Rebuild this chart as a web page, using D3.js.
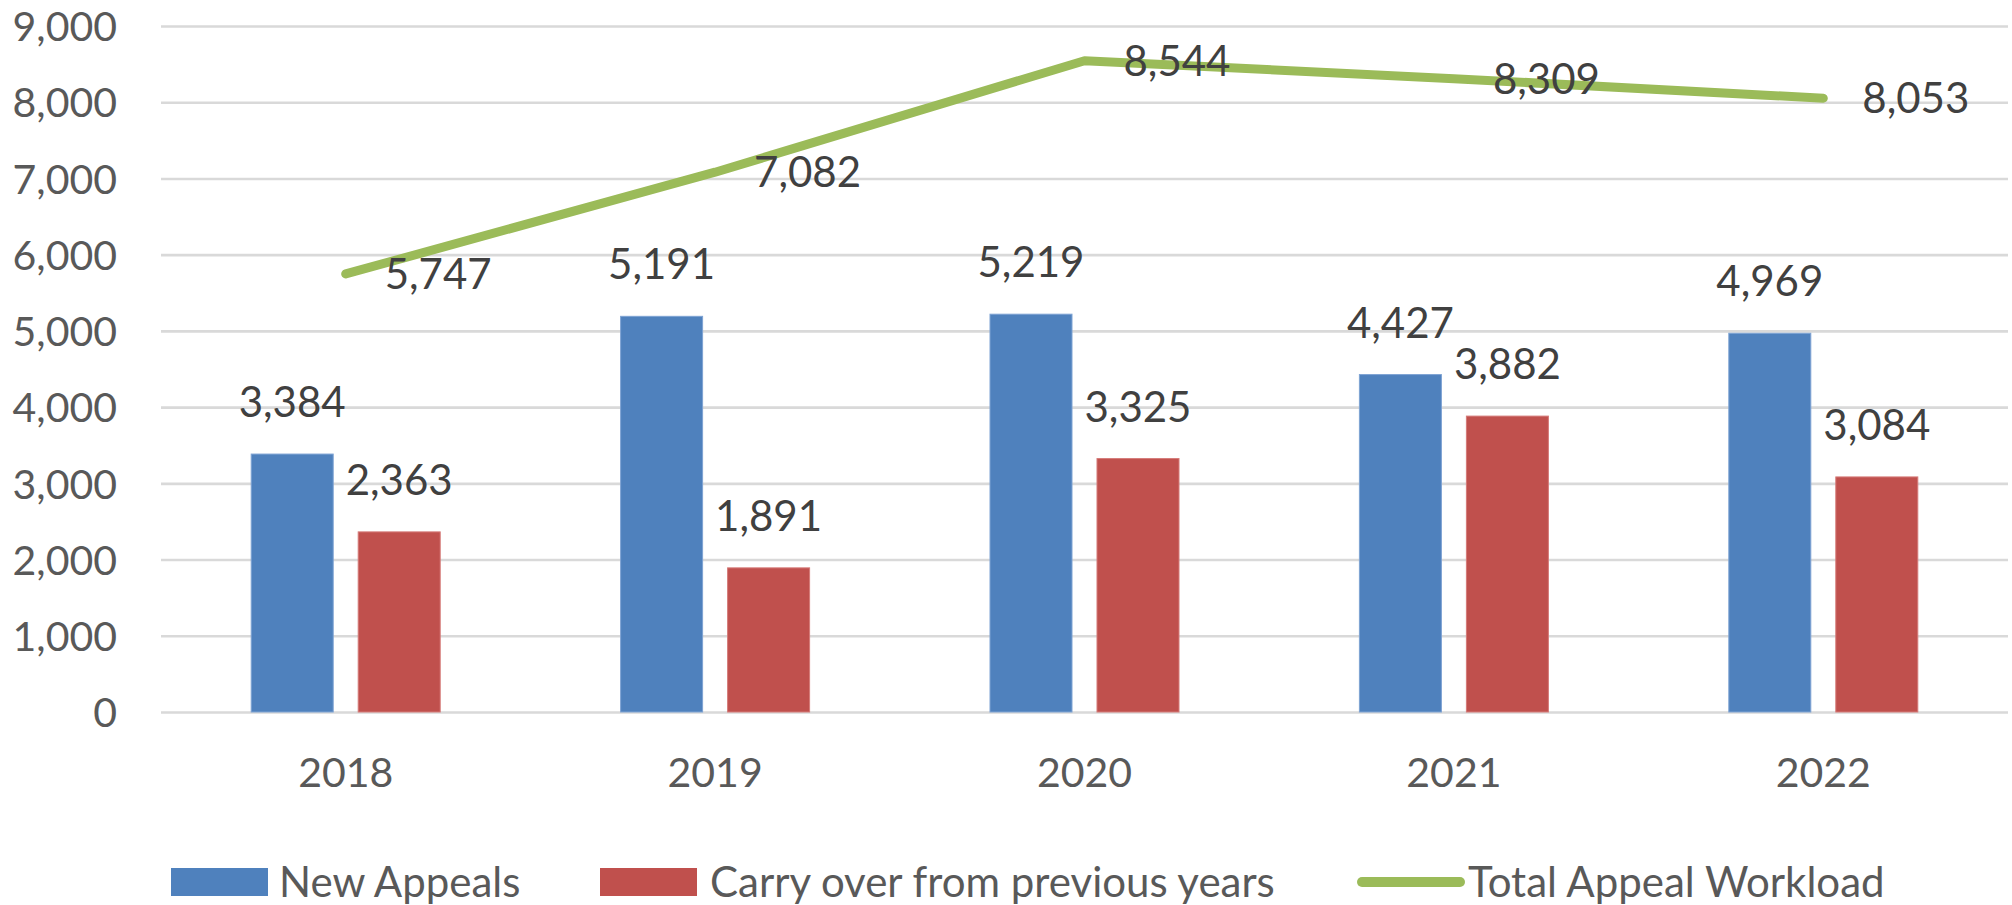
<!DOCTYPE html>
<html>
<head>
<meta charset="utf-8">
<script src="https://cdn.jsdelivr.net/npm/d3@7/dist/d3.min.js"></script>
<style>
  html, body { margin: 0; padding: 0; background: #ffffff; }
  svg { display: block; font-family: Lato, "Open Sans", sans-serif; }
</style>
</head>
<body>
<svg id="chart" width="2012" height="905"></svg>
<script>
const years = ["2018", "2019", "2020", "2021", "2022"];
const newAppeals = [3384, 5191, 5219, 4427, 4969];
const carryOver = [2363, 1891, 3325, 3882, 3084];
const totalWorkload = [5747, 7082, 8544, 8309, 8053];
const yTicks = [0, 1000, 2000, 3000, 4000, 5000, 6000, 7000, 8000, 9000];
const seriesNames = ["New Appeals", "Carry over from previous years", "Total Appeal Workload"];
const colors = ["#4F81BD", "#C0504D", "#9BBB59"];

const svg = d3.select("#chart");
const fmt = d3.format(",");

const x0 = d3.scaleBand().domain(years).range([161, 2008]).padding(0);
const x1 = d3.scaleBand().domain([0, 1]).range([0, x0.bandwidth()])
  .paddingInner(0.2336).paddingOuter(0.843);
const y = d3.scaleLinear().domain([0, 9000]).range([712, 26]);

// gridlines + y tick labels
const yAxis = d3.axisLeft(y).tickValues(yTicks).tickSize(-(2008 - 161)).tickFormat(fmt).tickPadding(44);
const gy = svg.append("g").attr("transform", "translate(161,0)").call(yAxis);
gy.select(".domain").remove();
gy.selectAll(".tick line").attr("stroke", "#d9d9d9").attr("stroke-width", 2.6);
gy.selectAll(".tick text")
  .attr("fill", "#595959").attr("font-size", 41).attr("font-family", "Lato")
  .attr("dy", "0.36em");

// x axis labels
const xAxis = d3.axisBottom(x0).tickSize(0).tickPadding(0);
const gx = svg.append("g").attr("transform", "translate(0,712)").call(xAxis);
gx.select(".domain").remove();
gx.selectAll(".tick text")
  .attr("fill", "#595959").attr("font-size", 41).attr("font-family", "Lato")
  .attr("dy", null).attr("y", 75);

// bars
const barData = [];
years.forEach((yr, i) => {
  barData.push({ yr, s: 0, v: newAppeals[i] });
  barData.push({ yr, s: 1, v: carryOver[i] });
});
const bars = svg.append("g");
bars.selectAll("rect").data(barData).enter().append("rect")
  .attr("x", d => x0(d.yr) + x1(d.s))
  .attr("width", x1.bandwidth())
  .attr("y", d => y(d.v))
  .attr("height", d => y(0) - y(d.v))
  .attr("fill", d => colors[d.s])
  .attr("stroke", d => d.s === 0 ? "#7ea3d3" : "#d57a78")
  .attr("stroke-width", 1);

bars.selectAll("text").data(barData).enter().append("text")
  .attr("x", d => x0(d.yr) + x1(d.s) + x1.bandwidth() / 2)
  .attr("y", d => y(d.v) - 37)
  .attr("text-anchor", "middle")
  .attr("fill", "#404040").attr("font-size", 42)
  .text(d => fmt(d.v));

// line
const lineData = years.map((yr, i) => ({ yr, v: totalWorkload[i] }));
const line = d3.line().x(d => x0(d.yr) + x0.bandwidth() / 2).y(d => y(d.v));
svg.append("path").datum(lineData)
  .attr("d", line)
  .attr("fill", "none")
  .attr("stroke", colors[2])
  .attr("stroke-width", 9)
  .attr("stroke-linecap", "round")
  .attr("stroke-linejoin", "round");

svg.append("g").selectAll("text").data(lineData).enter().append("text")
  .attr("x", d => x0(d.yr) + x0.bandwidth() / 2 + 39)
  .attr("y", d => y(d.v))
  .attr("dy", "0.36em")
  .attr("fill", "#404040").attr("font-size", 42)
  .text(d => fmt(d.v));

// legend
const legend = svg.append("g");
const legX = [171, 600, 1357];
legend.append("rect").attr("x", legX[0]).attr("y", 868).attr("width", 97).attr("height", 28).attr("fill", colors[0]);
legend.append("rect").attr("x", legX[1]).attr("y", 868).attr("width", 97).attr("height", 28).attr("fill", colors[1]);
legend.append("line").attr("x1", legX[2] + 5).attr("x2", legX[2] + 103).attr("y1", 882).attr("y2", 882)
  .attr("stroke", colors[2]).attr("stroke-width", 10).attr("stroke-linecap", "round");
const legTextX = [279, 710, 1468];
seriesNames.forEach((n, i) => {
  legend.append("text").attr("x", legTextX[i]).attr("y", 882).attr("dy", "0.36em")
    .attr("fill", "#595959").attr("font-size", 42).text(n);
});
</script>
</body>
</html>
